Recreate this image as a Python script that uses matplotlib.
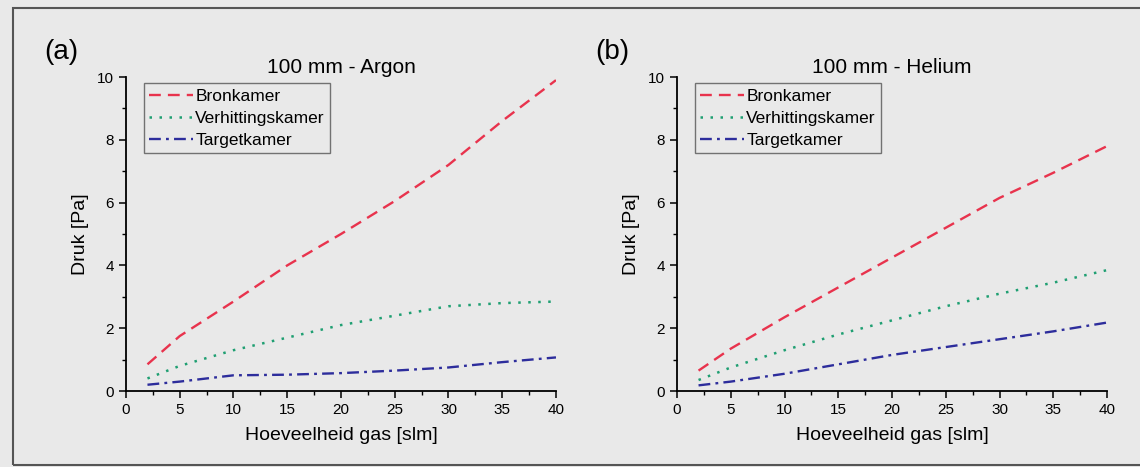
import matplotlib.pyplot as plt
from matplotlib.patches import Rectangle
from matplotlib.ticker import MultipleLocator

plt.rcParams['font.family'] = ['Liberation Sans', 'DejaVu Sans']

# data
gas = [2, 5, 10, 15, 20, 25, 30, 35, 40]

argon_bron = [0.85, 1.75, 2.85, 4.0, 5.0, 6.05, 7.2, 8.6, 9.9]
argon_verh = [0.4, 0.8, 1.3, 1.7, 2.1, 2.4, 2.7, 2.8, 2.85]
argon_target = [0.2, 0.3, 0.5, 0.52, 0.57, 0.65, 0.75, 0.92, 1.07]

helium_bron = [0.65, 1.35, 2.35, 3.3, 4.25, 5.2, 6.15, 6.95, 7.8]
helium_verh = [0.35, 0.75, 1.3, 1.8, 2.25, 2.7, 3.1, 3.45, 3.85]
helium_target = [0.18, 0.3, 0.55, 0.85, 1.15, 1.4, 1.65, 1.9, 2.18]

bg = '#e9e9e9'
fig = plt.figure(figsize=(11.4, 4.67), dpi=100, facecolor=bg)

# outer frame
fig.patches.append(Rectangle((13 / 1140, 2 / 467), 1.0, 457 / 467,
                             transform=fig.transFigure, fill=False,
                             edgecolor='#555555', linewidth=1.5))

panels = [
    (0.1105, '(a)', '100 mm - Argon', argon_bron, argon_verh, argon_target),
    (0.5939, '(b)', '100 mm - Helium', helium_bron, helium_verh, helium_target),
]

for x0, letter, title, bron, verh, target in panels:
    ax = fig.add_axes([x0, 0.1627, 0.3772, 0.6724])
    ax.set_facecolor(bg)
    ax.plot(gas, bron, color='#e8334d', lw=1.7, dashes=(5, 3), label='Bronkamer')
    ax.plot(gas, verh, color='#1f9f72', lw=1.8, dashes=(1, 3), label='Verhittingskamer')
    ax.plot(gas, target, color='#2d2d9c', lw=1.7, dashes=(5, 2.2, 1.2, 2.2), label='Targetkamer')

    ax.set_xlim(0, 40)
    ax.set_ylim(0, 10)
    ax.xaxis.set_major_locator(MultipleLocator(5))
    ax.xaxis.set_minor_locator(MultipleLocator(2.5))
    ax.yaxis.set_major_locator(MultipleLocator(2))
    ax.yaxis.set_minor_locator(MultipleLocator(1))
    ax.tick_params(which='major', direction='out', length=5, width=1.1, labelsize=11)
    ax.tick_params(which='minor', direction='out', length=3, width=1)
    for s in ['top', 'right']:
        ax.spines[s].set_visible(False)
    for s in ['left', 'bottom']:
        ax.spines[s].set_linewidth(1.3)

    ax.set_xlabel('Hoeveelheid gas [slm]', fontsize=14, labelpad=7)
    ax.set_ylabel('Druk [Pa]', fontsize=14, labelpad=6)
    ax.set_title(title, fontsize=15, pad=3)
    ax.text(-0.19, 1.08, letter, transform=ax.transAxes, fontsize=20,
            ha='left', va='center')

    leg = ax.legend(loc='upper left', bbox_to_anchor=(0.042, 0.98), fontsize=12.5,
                    frameon=True, fancybox=False, handlelength=2.5,
                    handletextpad=0.15, borderpad=0.3, labelspacing=0.4,
                    borderaxespad=0)
    leg.get_frame().set_edgecolor('#555555')
    leg.get_frame().set_facecolor(bg)
    leg.get_frame().set_linewidth(1)

fig.savefig('out.png', dpi=100, facecolor=bg)
